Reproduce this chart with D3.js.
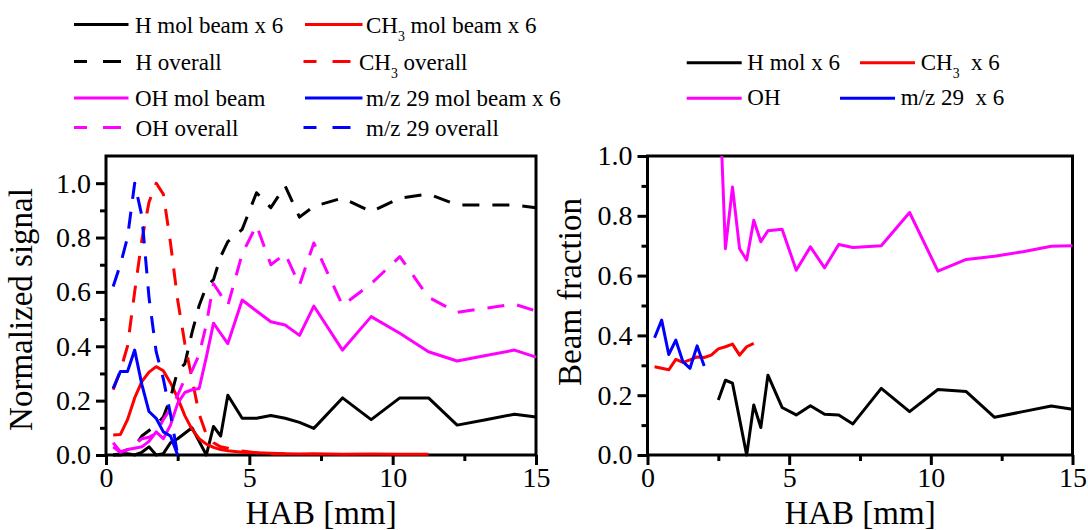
<!DOCTYPE html>
<html>
<head>
<meta charset="utf-8">
<script src="https://cdn.jsdelivr.net/npm/d3@7"></script>
<style>
  html, body { margin: 0; padding: 0; background: #fff; }
  svg { display: block; }
  svg text { font-family: "Liberation Serif", "Times New Roman", serif !important; fill: #000; white-space: pre; }
</style>
</head>
<body>
<svg id="chart" width="1088" height="530"></svg>
<script>
// ---------- Left panel: normalized signals vs height above burner ----------
const habLeft = [0.25, 0.5, 0.75, 1, 1.25, 1.5, 1.75, 2, 2.25, 2.5, 2.75, 3, 3.25, 3.5, 3.75, 4,
                 4.25, 4.75, 5.25, 5.75, 6.25, 6.75, 7.25, 8.25, 9.25, 10.25, 11.25, 12.25, 13.25, 14.25, 15];

const hMolBeam = [0.0, 0.0, 0.005, 0.0, 0.01, 0.03, 0.0, 0.005, 0.045, 0.06, 0.08, 0.10, 0.05, 0.0, 0.105, 0.07,
                  0.22, 0.135, 0.135, 0.145, 0.135, 0.12, 0.098, 0.21, 0.13, 0.21, 0.21, 0.11, 0.13, 0.15, 0.14];
const hOverall = [0.0, 0.005, 0.02, 0.03, 0.07, 0.09, 0.11, 0.14, 0.21, 0.31, 0.335, 0.45, 0.55, 0.62, 0.645, 0.73,
                  0.785, 0.83, 0.965, 0.91, 0.99, 0.875, 0.915, 0.945, 0.895, 0.945, 0.96, 0.92, 0.92, 0.92, 0.91];
const ch3MolBeam = [0.074, 0.075, 0.13, 0.21, 0.27, 0.305, 0.325, 0.31, 0.265, 0.21, 0.145, 0.095, 0.06, 0.04, 0.028, 0.02,
                    0.016, 0.01, 0.008, 0.006, 0.005, 0.004, 0.005, 0.003, 0.004, 0.003, 0.003, null, null, null, null];
const ch3Overall = [0.24, 0.31, 0.40, 0.60, 0.79, 0.93, 1.0, 0.96, 0.78, 0.57, 0.41, 0.28, 0.15, 0.075, 0.045, 0.03,
                    0.025, 0.015, 0.008, 0.005, 0.004, null, null, null, null, null, null, null, null, null, null];
const ohMolBeam = [0.045, 0.012, 0.02, 0.025, 0.03, 0.05, 0.085, 0.06, 0.11, 0.19, 0.23, 0.24, 0.245, 0.36, 0.485, 0.447,
                   0.41, 0.57, 0.53, 0.49, 0.478, 0.44, 0.548, 0.386, 0.509, 0.448, 0.38, 0.346, 0.366, 0.386, 0.36];
const ohOverall = [0.03, 0.01, 0.02, 0.04, 0.06, 0.065, 0.08, 0.13, 0.17, 0.22, 0.28, 0.31, 0.37, 0.48, 0.63, 0.59,
                   0.55, 0.74, 0.845, 0.70, 0.74, 0.625, 0.78, 0.55, 0.63, 0.73, 0.58, 0.525, 0.54, 0.555, 0.53];
const mz29MolBeam = [0.245, 0.307, 0.307, 0.386, 0.26, 0.16, 0.135, 0.085, 0.07, 0.0, null, null, null, null, null, null,
                     null, null, null, null, null, null, null, null, null, null, null, null, null, null, null];
const mz29Overall = [0.62, 0.70, 0.80, 1.0, 0.88, 0.58, 0.38, 0.28, 0.15, 0.0, null, null, null, null, null, null,
                     null, null, null, null, null, null, null, null, null, null, null, null, null, null, null];

// ---------- Right panel: molecular-beam fraction ----------
const habFracH = [2.5, 2.75, 3, 3.25, 3.5, 3.75, 4, 4.25, 4.75, 5.25, 5.75, 6.25, 6.75, 7.25, 8.25, 9.25, 10.25, 11.25, 12.25, 13.25, 14.25, 15];
const fracH = [0.184, 0.25, 0.24, 0.12, 0.0, 0.167, 0.092, 0.267, 0.159, 0.134, 0.165, 0.136, 0.134, 0.104, 0.223, 0.145, 0.219, 0.212, 0.126, 0.145, 0.164, 0.153];
const habFracOH = [2.625, 2.75, 3, 3.25, 3.5, 3.75, 4, 4.25, 4.75, 5.25, 5.75, 6.25, 6.75, 7.25, 8.25, 9.25, 10.25, 11.25, 12.25, 13.25, 14.25, 15];
const fracOH = [1.0, 0.69, 0.896, 0.69, 0.652, 0.785, 0.713, 0.75, 0.755, 0.618, 0.696, 0.626, 0.704, 0.694, 0.70, 0.811, 0.615, 0.654, 0.665, 0.68, 0.698, 0.70];
const habFracCH3 = [0.25, 0.5, 0.75, 1, 1.25, 1.5, 1.75, 2, 2.25, 2.5, 2.75, 3, 3.25, 3.5, 3.75];
const fracCH3 = [0.295, 0.29, 0.285, 0.32, 0.31, 0.318, 0.328, 0.326, 0.334, 0.355, 0.362, 0.371, 0.334, 0.362, 0.373];
const habFracMz29 = [0.25, 0.5, 0.75, 1, 1.25, 1.5, 1.75, 2];
const fracMz29 = [0.392, 0.451, 0.336, 0.384, 0.312, 0.29, 0.365, 0.298];

// ---------- Axis ticks ----------
const xMajorTicks = [0, 5, 10, 15];
const xMinorTicks = [2.5, 7.5, 12.5];
const yMajorTicks = [0, 0.2, 0.4, 0.6, 0.8, 1.0];
const yMinorTicks = [0.1, 0.3, 0.5, 0.7, 0.9];

const COLORS = { black: "#000000", red: "#ff0000", magenta: "#ff00ff", blue: "#0000ff" };
const DASH = "17,13";
const SERIF = "'Liberation Serif', 'Times New Roman', serif";

const svg = d3.select("#chart");

const panels = {
  left:  { x: d3.scaleLinear().domain([0, 15]).range([106, 536]),
           y: d3.scaleLinear().domain([0, 1.1]).range([455, 156]) },
  right: { x: d3.scaleLinear().domain([0, 15]).range([647.5, 1072.5]),
           y: d3.scaleLinear().domain([0, 1.0]).range([455, 156]) }
};

function styleAxis(g, fontSize) {
  g.attr("font-family", SERIF).attr("font-size", fontSize);
  g.select(".domain").remove();
  g.selectAll(".tick line").attr("stroke", "#000").attr("stroke-width", 3);
  g.selectAll(".tick text")
    .style("font-family", SERIF)
    .style("font-size", fontSize + "px")
    .attr("fill", "#000");
}

function drawFrame(p, title, titleX, titleY) {
  const [x0, x1] = p.x.range();
  const [yb, yt] = p.y.range();
  const g = svg.append("g");

  g.append("g").attr("transform", `translate(0,${yb})`)
    .call(d3.axisBottom(p.x).tickValues(xMinorTicks).tickSize(6).tickSizeOuter(0).tickFormat(""))
    .call(s => styleAxis(s, 28));
  g.append("g").attr("transform", `translate(0,${yb})`)
    .call(d3.axisBottom(p.x).tickValues(xMajorTicks).tickSize(10).tickSizeOuter(0).tickPadding(2).tickFormat(d3.format("d")))
    .call(s => styleAxis(s, 28));
  g.append("g").attr("transform", `translate(${x0},0)`)
    .call(d3.axisLeft(p.y).tickValues(yMinorTicks).tickSize(6).tickSizeOuter(0).tickFormat(""))
    .call(s => styleAxis(s, 28));
  g.append("g").attr("transform", `translate(${x0},0)`)
    .call(d3.axisLeft(p.y).tickValues(yMajorTicks).tickSize(10).tickSizeOuter(0).tickPadding(5).tickFormat(d3.format(".1f")))
    .call(s => styleAxis(s, 28));

  g.append("rect")
    .attr("x", x0).attr("y", yt).attr("width", x1 - x0).attr("height", yb - yt)
    .attr("fill", "none").attr("stroke", "#000").attr("stroke-width", 3);

  g.append("text")
    .attr("x", (x0 + x1) / 2).attr("y", 524)
    .attr("text-anchor", "middle")
    .style("font-family", SERIF).style("font-size", "33px")
    .text("HAB [mm]");

  g.append("text")
    .attr("transform", `translate(${titleX},${titleY}) rotate(-90)`)
    .attr("text-anchor", "middle")
    .style("font-family", SERIF).style("font-size", "33px")
    .text(title);
}

function drawSeries(p, xs, ys, color, dashed) {
  const pts = xs.map((x, i) => ({ x, y: ys[i] }));
  const line = d3.line()
    .defined(d => d.y !== null && d.y !== undefined)
    .x(d => p.x(d.x)).y(d => p.y(d.y));
  svg.append("path")
    .datum(pts)
    .attr("d", line)
    .attr("fill", "none")
    .attr("stroke", color)
    .attr("stroke-width", 3)
    .attr("stroke-linejoin", "round")
    .attr("stroke-dasharray", dashed ? DASH : null);
}

// Text with optional "_{..}" subscript parts
function richText(sel, label, fontSize) {
  const parts = label.split(/(_\{[^}]*\})/).filter(s => s.length);
  let lowered = false;
  parts.forEach(part => {
    if (part.startsWith("_{")) {
      sel.append("tspan").style("font-size", (fontSize * 0.6) + "px").attr("dy", 8).text(part.slice(2, -1));
      lowered = true;
    } else {
      const t = sel.append("tspan").style("font-size", fontSize + "px").text(part);
      if (lowered) { t.attr("dy", -8); lowered = false; }
    }
  });
}

function drawLegend(items, fontSize, baseOffset) {
  const g = svg.append("g");
  items.forEach(it => {
    g.append("line")
      .attr("x1", it.lx0).attr("x2", it.lx1).attr("y1", it.y).attr("y2", it.y)
      .attr("stroke", it.color).attr("stroke-width", 3)
      .attr("stroke-dasharray", it.dashed ? "13,16,18,100" : null);
    const t = g.append("text").attr("x", it.tx).attr("y", it.y + baseOffset)
      .style("font-family", SERIF).style("font-size", fontSize + "px");
    richText(t, it.label, fontSize);
  });
}

// ---------- Left panel ----------
drawFrame(panels.left, "Normalized signal", 32, 309.5);
drawSeries(panels.left, habLeft, hMolBeam, COLORS.black, false);
drawSeries(panels.left, habLeft, ch3MolBeam, COLORS.red, false);
drawSeries(panels.left, habLeft, hOverall, COLORS.black, true);
drawSeries(panels.left, habLeft, ch3Overall, COLORS.red, true);
drawSeries(panels.left, habLeft, ohMolBeam, COLORS.magenta, false);
drawSeries(panels.left, habLeft, ohOverall, COLORS.magenta, true);
drawSeries(panels.left, habLeft, mz29MolBeam, COLORS.blue, false);
drawSeries(panels.left, habLeft, mz29Overall, COLORS.blue, true);

// ---------- Right panel ----------
drawFrame(panels.right, "Beam fraction", 581, 292);
drawSeries(panels.right, habFracOH, fracOH, COLORS.magenta, false);
drawSeries(panels.right, habFracCH3, fracCH3, COLORS.red, false);
drawSeries(panels.right, habFracMz29, fracMz29, COLORS.blue, false);
drawSeries(panels.right, habFracH, fracH, COLORS.black, false);

// ---------- Legends ----------
drawLegend([
  { label: "H mol beam x 6",        color: COLORS.black,   dashed: false, y: 24.5,  lx0: 74,    lx1: 128.5, tx: 135 },
  { label: "CH_{3} mol beam x 6",   color: COLORS.red,     dashed: false, y: 24.5,  lx0: 305,   lx1: 362.5, tx: 366 },
  { label: "H overall",             color: COLORS.black,   dashed: true,  y: 61.5,  lx0: 74,    lx1: 122,   tx: 135.5 },
  { label: "CH_{3} overall",        color: COLORS.red,     dashed: true,  y: 61.5,  lx0: 303.5, lx1: 352,   tx: 359 },
  { label: "OH mol beam",           color: COLORS.magenta, dashed: false, y: 98,    lx0: 74,    lx1: 128.5, tx: 135 },
  { label: "m/z 29 mol beam x 6",   color: COLORS.blue,    dashed: false, y: 98,    lx0: 305,   lx1: 362.5, tx: 366 },
  { label: "OH overall",            color: COLORS.magenta, dashed: true,  y: 127.5, lx0: 74,    lx1: 122,   tx: 135.5 },
  { label: "m/z 29 overall",        color: COLORS.blue,    dashed: true,  y: 127.5, lx0: 303.5, lx1: 352,   tx: 366 }
], 23, 8);

drawLegend([
  { label: "H mol x 6",    color: COLORS.black,   dashed: false, y: 62.7, lx0: 686.7, lx1: 741.7, tx: 747.3 },
  { label: "CH_{3}  x 6",  color: COLORS.red,     dashed: false, y: 62.7, lx0: 860,   lx1: 915,   tx: 920.7 },
  { label: "OH",           color: COLORS.magenta, dashed: false, y: 98.3, lx0: 686.7, lx1: 741.7, tx: 747.3 },
  { label: "m/z 29  x 6",  color: COLORS.blue,    dashed: false, y: 98.3, lx0: 840,   lx1: 895,   tx: 900.7 }
], 23, 7);
</script>
</body>
</html>
